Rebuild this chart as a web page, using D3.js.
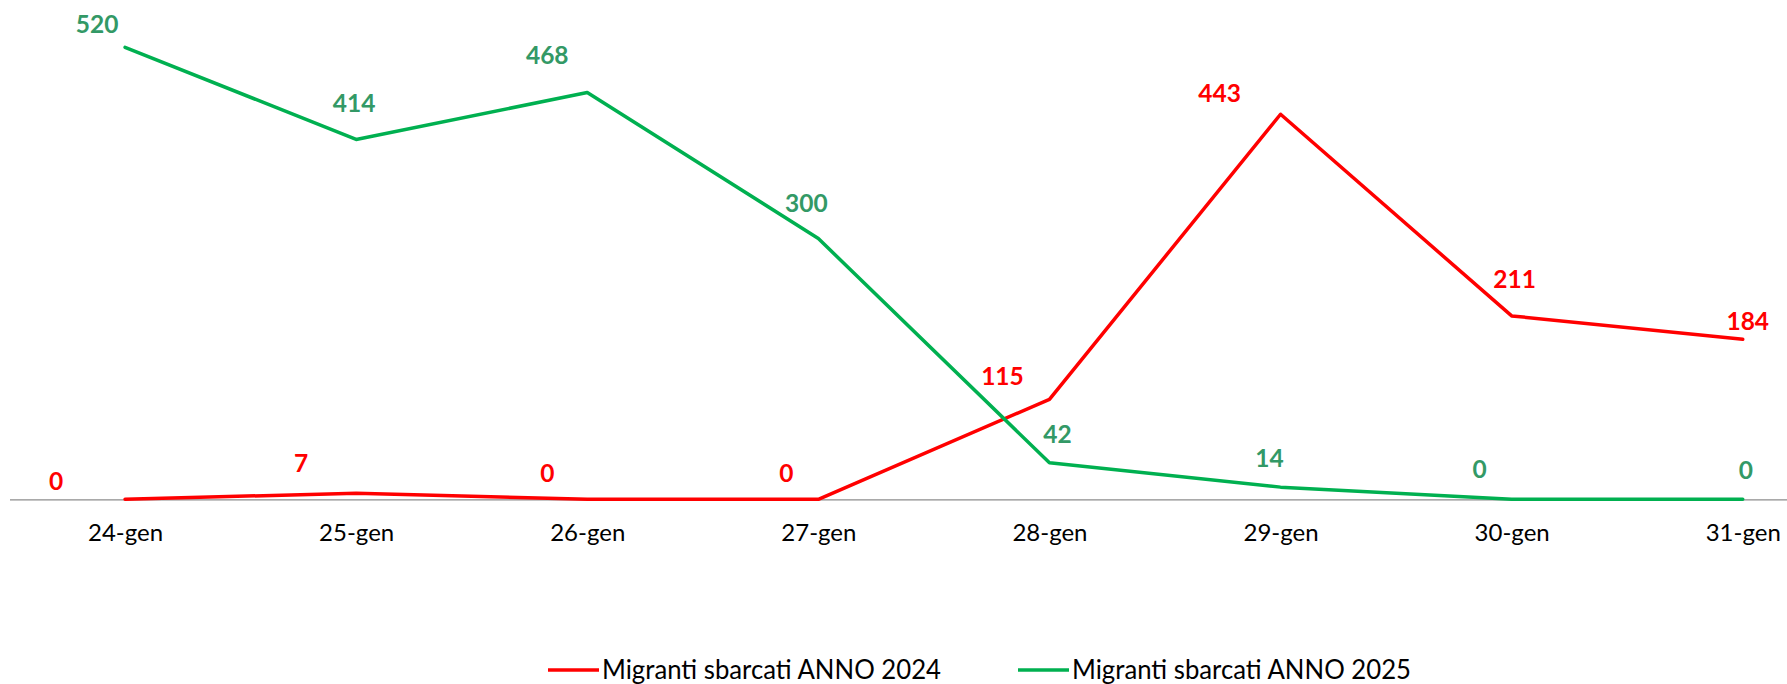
<!DOCTYPE html>
<html>
<head>
<meta charset="utf-8">
<script src="https://cdn.jsdelivr.net/npm/d3@7"></script>
<style>
  body { margin: 0; background: #fff; }
  svg { display: block; font-family: Lato, 'Open Sans', sans-serif; }
</style>
</head>
<body>
<div class="canvas"></div>
<script>
// data
const days = ['24-gen', '25-gen', '26-gen', '27-gen', '28-gen', '29-gen', '30-gen', '31-gen'];
const sbarcati2024 = [0, 7, 0, 0, 115, 443, 211, 184];
const sbarcati2025 = [520, 414, 468, 300, 42, 14, 0, 0];
const seriesNames = ['Migranti sbarcati ANNO 2024', 'Migranti sbarcati ANNO 2025'];

// manual label nudges (dx, dy from the point), as placed in the original
const nudge2024 = [[-69, -9], [-55, -21], [-40, -17], [-32, -17], [-47, -14], [-61, -12], [3, -28], [5, -9]];
const nudge2025 = [[-28, -14], [-2, -27], [-40, -29], [-12, -27], [8, -20], [-11, -20], [-32, -21], [3, -20]];

const width = 1787;
const height = 684;

const red = '#ff0000';
const green = '#00b050';
const greenLabel = '#339966';

const svg = d3.select('.canvas').append('svg')
  .attr('width', width)
  .attr('height', height);

// scales
const x = d3.scalePoint()
  .domain(days)
  .range([9.5, 1858.3])
  .padding(0.5);
const y = d3.scaleLinear()
  .domain([0, 520])
  .range([499.3, 47.3]);

// x axis
const xAxisGroup = svg.append('g')
  .attr('class', 'x-axis')
  .attr('transform', `translate(0,${y(0)})`);
const xAxis = d3.axisBottom(x)
  .tickSize(0)
  .tickSizeOuter(0)
  .tickPadding(25);
xAxisGroup.call(xAxis);
xAxisGroup.select('.domain')
  .attr('stroke', '#8c8c8c')
  .attr('stroke-width', 1.3);
xAxisGroup.selectAll('text')
  .attr('font-family', 'Lato, sans-serif')
  .attr('font-size', 24)
  .attr('fill', '#000');

// lines
const line = d3.line()
  .x((d, i) => x(days[i]))
  .y(d => y(d));

const series = [
  { name: seriesNames[0], values: sbarcati2024, color: red, labelColor: red, nudge: nudge2024 },
  { name: seriesNames[1], values: sbarcati2025, color: green, labelColor: greenLabel, nudge: nudge2025 }
];

series.forEach(s => {
  svg.append('path')
    .datum(s.values)
    .attr('fill', 'none')
    .attr('stroke', s.color)
    .attr('stroke-width', 3.5)
    .attr('stroke-linejoin', 'round')
    .attr('stroke-linecap', 'round')
    .attr('d', line);
});

// data labels
series.forEach(s => {
  svg.append('g')
    .selectAll('text')
    .data(s.values)
    .enter()
    .append('text')
      .attr('x', (d, i) => x(days[i]) + s.nudge[i][0])
      .attr('y', (d, i) => y(d) + s.nudge[i][1])
      .attr('text-anchor', 'middle')
      .attr('font-size', 24.5)
      .attr('font-weight', 'bold')
      .attr('fill', s.labelColor)
      .text(d => d);
});

// legend
const legendX = [548, 1018];
const legend = svg.append('g')
  .attr('transform', 'translate(0,670)');
series.forEach((s, i) => {
  const item = legend.append('g')
    .attr('transform', `translate(${legendX[i]},0)`);
  item.append('line')
    .attr('x1', 0)
    .attr('x2', 51)
    .attr('stroke', s.color)
    .attr('stroke-width', 3.5);
  item.append('text')
    .attr('x', 54)
    .attr('dy', '0.36em')
    .attr('font-size', 26)
    .attr('fill', '#000')
    .attr('textLength', 339)
    .attr('lengthAdjust', 'spacingAndGlyphs')
    .text(s.name);
});
</script>
</body>
</html>
